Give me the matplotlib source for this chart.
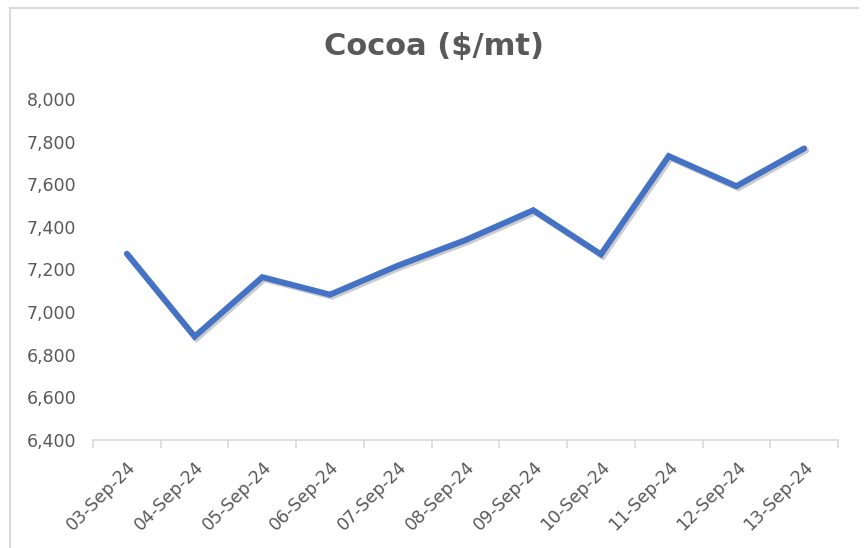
import matplotlib
matplotlib.use("Agg")
import matplotlib.pyplot as plt
import matplotlib.patheffects as pe
from matplotlib.lines import Line2D

dates = ["03-Sep-24", "04-Sep-24", "05-Sep-24", "06-Sep-24", "07-Sep-24", "08-Sep-24",
         "09-Sep-24", "10-Sep-24", "11-Sep-24", "12-Sep-24", "13-Sep-24"]
prices = [7274, 6885, 7164, 7082, 7218, 7338, 7478, 7271, 7732, 7591, 7768]
yticks = [6400, 6600, 6800, 7000, 7200, 7400, 7600, 7800, 8000]

grey = "#595959"
fig = plt.figure(figsize=(8.65, 5.48), dpi=100)
fig.patch.set_facecolor("white")
# chart border (top and left edges visible)
fig.add_artist(Line2D([10/865, 858/865], [1 - 8/548, 1 - 8/548], transform=fig.transFigure,
                      color="#d9d9d9", linewidth=1.5))
fig.add_artist(Line2D([10/865, 10/865], [0, 1 - 8/548], transform=fig.transFigure,
                      color="#d9d9d9", linewidth=1.5))

ax = fig.add_axes([93/865, 1 - 440/548, (838 - 93)/865, (440 - 99)/548])
x = list(range(len(dates)))
ax.plot(x, prices, color="#4472C4", linewidth=4.3, solid_joinstyle="miter",
        solid_capstyle="round",
        path_effects=[pe.SimpleLineShadow(offset=(1.5, -1.5), shadow_color="black", alpha=0.2),
                      pe.Normal()])
ax.set_xlim(-0.5, len(dates) - 0.5)
ax.set_ylim(6400, 8000)
ax.set_yticks(yticks)
ax.set_yticklabels([f"{v:,}" for v in yticks])
ax.set_xticks(x)
ax.set_xticklabels(dates, rotation=45, ha="right", rotation_mode="anchor")
ax.set_xticks([i - 0.5 for i in range(len(dates) + 1)], minor=True)

for s in ["top", "right", "left"]:
    ax.spines[s].set_visible(False)
ax.spines["bottom"].set_color("#d9d9d9")
ax.spines["bottom"].set_linewidth(1.2)
ax.tick_params(axis="y", length=0, pad=12, labelsize=12.5, labelcolor=grey)
ax.tick_params(axis="x", which="major", length=0, pad=13, labelsize=12.5, labelcolor=grey)
ax.tick_params(axis="x", which="minor", length=6, color="#d9d9d9", width=1.2)

fig.text(434/865, 1 - 46/548, "Cocoa ($/mt)", ha="center", va="center",
         fontsize=22, fontweight="bold", color=grey)

fig.savefig("out.png", dpi=100)
